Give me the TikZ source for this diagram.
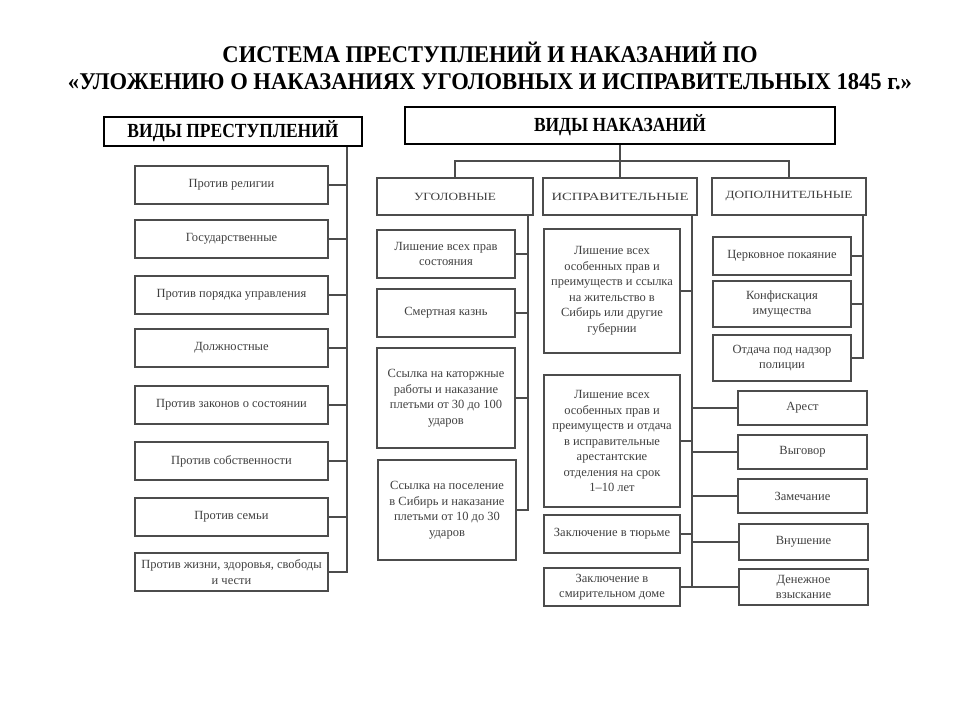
\documentclass[tikz,border=0pt]{standalone}
\usepackage{fontspec}
\setmainfont{Liberation Serif}
\usepackage{graphicx}
\newcommand{\fitw}[2]{\resizebox{#1}{\height}{#2}}
\begin{document}
\begin{tikzpicture}[x=1pt,y=-1pt,
  sz/.style 2 args={minimum width=#1, minimum height=#2},
  box/.style={draw=black!70, line width=1.3pt, fill=white, align=center, inner sep=1pt, text=black!75, font=\fontsize{12.5}{15.5}\selectfont},
  hdr/.style={draw=black, line width=2.4pt, fill=white, align=center, inner sep=0pt, font=\fontsize{20}{24}\selectfont\bfseries},
  cat/.style={box, font=\fontsize{11}{13}\selectfont},
  ttl/.style={inner sep=0pt, font=\fontsize{24}{28}\selectfont\bfseries},
  wire/.style={draw=black!70, line width=1.3pt}]
\useasboundingbox[fill=white] (0,0) rectangle (960,720);

% title
\node[ttl] (t1) at (490,52) {\fitw{535pt}{СИСТЕМА ПРЕСТУПЛЕНИЙ И НАКАЗАНИЙ ПО}};
\node[ttl] (t2) at (490,82) {\fitw{844pt}{«УЛОЖЕНИЮ О НАКАЗАНИЯХ УГОЛОВНЫХ И ИСПРАВИТЕЛЬНЫХ 1845 г.»}};

% headers
\node[hdr, sz={258pt}{29pt}] (hdrL) at (233,131.5) {\fitw{211pt}{ВИДЫ ПРЕСТУПЛЕНИЙ}};
\node[hdr, sz={430pt}{37pt}] (hdrR) at (620,125.5) {\fitw{172pt}{ВИДЫ НАКАЗАНИЙ}};

% crimes
\node[box, sz={193pt}{38pt}] (L1) at (231.5,185) {Против религии};
\node[box, sz={193pt}{38pt}] (L2) at (231.5,239) {Государственные};
\node[box, sz={193pt}{38pt}] (L3) at (231.5,295) {Против порядка управления};
\node[box, sz={193pt}{38pt}] (L4) at (231.5,348) {Должностные};
\node[box, sz={193pt}{38pt}] (L5) at (231.5,405) {Против законов о состоянии};
\node[box, sz={193pt}{38pt}] (L6) at (231.5,461) {Против собственности};
\node[box, sz={193pt}{38pt}] (L7) at (231.5,517) {Против семьи};
\node[box, sz={193pt}{38pt}] (L8) at (231.5,572) {Против жизни, здоровья, свободы\\и чести};
\coordinate (lbus) at (347,0);
\draw[wire] (hdrL.south -| lbus) -- (L8.east -| lbus) -- (L8.east);
\foreach \n in {L1,L2,L3,L4,L5,L6,L7} \draw[wire] (\n.east) -- (\n.east -| lbus);

% categories
\node[cat, sz={156pt}{37pt}] (Ugol) at (455,196.5) {\fitw{82pt}{УГОЛОВНЫЕ}};
\node[cat, sz={154pt}{37pt}] (Ispr) at (620,196.5) {\fitw{137pt}{ИСПРАВИТЕЛЬНЫЕ}};
\node[cat, sz={154pt}{37pt}] (Dop) at (789,196.5) {\fitw{127pt}{ДОПОЛНИТЕЛЬНЫЕ}};
\coordinate (tbus) at (0,161);
\draw[wire] (hdrR.south) -- (Ispr.north);
\draw[wire] (Ugol.north) -- (Ugol.north |- tbus) -- (Dop.north |- tbus) -- (Dop.north);

% criminal
\node[box, sz={138pt}{48pt}] (U1) at (446,254) {Лишение всех прав\\состояния};
\node[box, sz={138pt}{48pt}] (U2) at (446,313) {Смертная казнь};
\node[box, sz={138pt}{100pt}] (U3) at (446,398) {Ссылка на каторжные\\работы и наказание\\плетьми от 30 до 100\\ударов};
\node[box, sz={138pt}{100pt}] (U4) at (447,510) {Ссылка на поселение\\в Сибирь и наказание\\плетьми от 10 до 30\\ударов};
\coordinate (ubus) at (528,0);
\draw[wire] (Ugol.south -| ubus) -- (U4.east -| ubus) -- (U4.east);
\foreach \n in {U1,U2,U3} \draw[wire] (\n.east) -- (\n.east -| ubus);

% correctional
\node[box, sz={136pt}{124pt}] (S1) at (612,291) {Лишение всех\\особенных прав и\\преимуществ и ссылка\\на жительство в\\Сибирь или другие\\губернии};
\node[box, sz={136pt}{132pt}] (S2) at (612,441) {Лишение всех\\особенных прав и\\преимуществ и отдача\\в исправительные\\арестантские\\отделения на срок\\1–10 лет};
\node[box, sz={136pt}{38pt}] (S3) at (612,534) {Заключение в тюрьме};
\node[box, sz={136pt}{38pt}] (S4) at (612,587) {Заключение в\\смирительном доме};
\node[box, sz={129pt}{34pt}] (R1) at (802.5,408) {Арест};
\node[box, sz={129pt}{34pt}] (R2) at (802.5,452) {Выговор};
\node[box, sz={129pt}{34pt}] (R3) at (802.5,496) {Замечание};
\node[box, sz={129pt}{36pt}] (R4) at (803.5,542) {Внушение};
\node[box, sz={129pt}{36pt}] (R5) at (803.5,587) {Денежное\\взыскание};
\coordinate (ibus) at (692,0);
\draw[wire] (Ispr.south -| ibus) -- (S4.east -| ibus);
\draw[wire] (S4.east) -- (R5.west);
\foreach \n in {S1,S2,S3} \draw[wire] (\n.east) -- (\n.east -| ibus);
\foreach \n in {R1,R2,R3,R4} \draw[wire] (\n.west) -- (\n.west -| ibus);

% additional
\node[box, sz={138pt}{38pt}] (D1) at (782,256) {Церковное покаяние};
\node[box, sz={138pt}{46pt}] (D2) at (782,304) {Конфискация\\имущества};
\node[box, sz={138pt}{46pt}] (D3) at (782,358) {Отдача под надзор\\полиции};
\coordinate (dbus) at (863,0);
\draw[wire] (Dop.south -| dbus) -- (D3.east -| dbus) -- (D3.east);
\foreach \n in {D1,D2} \draw[wire] (\n.east) -- (\n.east -| dbus);
\end{tikzpicture}
\end{document}
